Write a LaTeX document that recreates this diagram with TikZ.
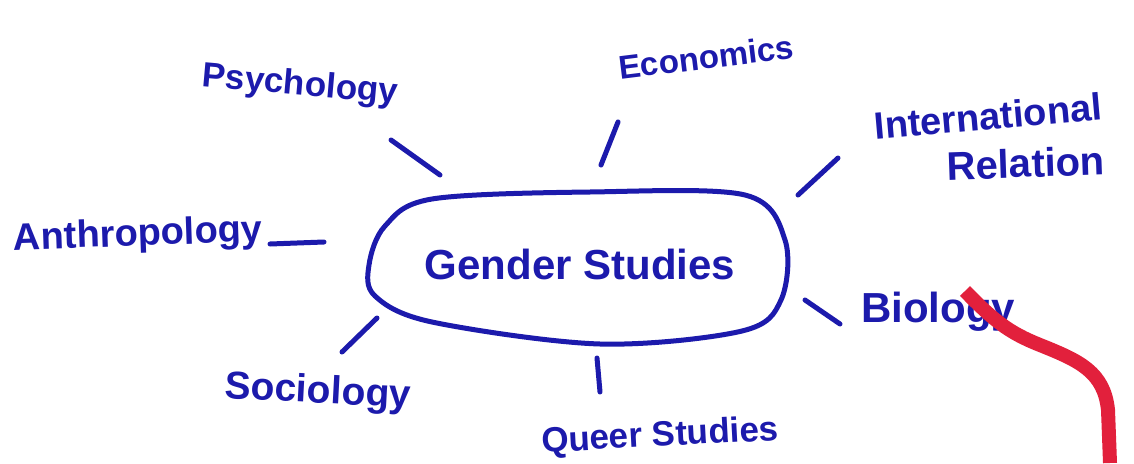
\documentclass[tikz,border=0pt]{standalone}
\usepackage{fontspec}
\setmainfont{Liberation Sans}
\definecolor{penblue}{RGB}{28,26,172}
\definecolor{markred}{RGB}{226,32,60}
\begin{document}
\begin{tikzpicture}[x=1pt,y=-1pt,
  lbl/.style={text=penblue, inner sep=0pt},
  pen/.style={draw=penblue, line width=5pt, line cap=round, line join=round}]
\useasboundingbox (0,0) rectangle (1134,463);
\fill[white] (0,0) rectangle (1134,463);
% central oval
\draw[pen] plot[smooth cycle, tension=0.55] coordinates {(369,265) (385,226) (432,199) (590,192) (745,195) (785,240) (781,300) (742,331) (600,344) (432,322) (375,296)};
\node[lbl, font=\bfseries\fontsize{42}{46}\selectfont] (gs) at (580,264) {Gender Studies};
% labels
\node[lbl, font=\bfseries\fontsize{35}{38}\selectfont, rotate=-5] (psy) at (300,86) {Psychology};
\node[lbl, font=\bfseries\fontsize{33}{36}\selectfont, rotate=7] (eco) at (706,57) {Economics};
\node[lbl, font=\bfseries\fontsize{38}{41}\selectfont, rotate=5] (intl) at (988,116) {International};
\node[lbl, font=\bfseries\fontsize{40}{43}\selectfont, rotate=2] (rel) at (1026,163) {Relation};
\node[lbl, font=\bfseries\fontsize{38}{41}\selectfont, rotate=2] (ant) at (138,236) {Anthropology};
\node[lbl, font=\bfseries\fontsize{42}{45}\selectfont] (bio) at (938,312) {Biology};
\node[lbl, font=\bfseries\fontsize{39}{42}\selectfont, rotate=-3] (soc) at (318,393) {Sociology};
\node[lbl, font=\bfseries\fontsize{35}{38}\selectfont, rotate=3] (qs) at (660,437) {Queer Studies};
% connector ends
\coordinate (psyA) at (391,140); \coordinate (psyB) at (440,175);
\coordinate (ecoA) at (618,122); \coordinate (ecoB) at (601,165);
\coordinate (intlA) at (838,158); \coordinate (intlB) at (798,195);
\coordinate (antA) at (270,244); \coordinate (antB) at (324,242);
\coordinate (bioA) at (805,300); \coordinate (bioB) at (840,324);
\coordinate (socA) at (377,318); \coordinate (socB) at (342,352);
\coordinate (qsA) at (597,358); \coordinate (qsB) at (600,392);
\draw[pen] (psyA) -- (psyB);
\draw[pen] (ecoA) -- (ecoB);
\draw[pen] (intlA) -- (intlB);
\draw[pen] (antA) -- (antB);
\draw[pen] (bioA) -- (bioB);
\draw[pen] (socA) -- (socB);
\draw[pen] (qsA) -- (qsB);
% red marker stroke
\draw[markred, line width=14pt] (965,291) .. controls (995,322) and (1010,333) .. (1040,345) .. controls (1080,361) and (1104,372) .. (1108,410) -- (1110,463);
\end{tikzpicture}
\end{document}
